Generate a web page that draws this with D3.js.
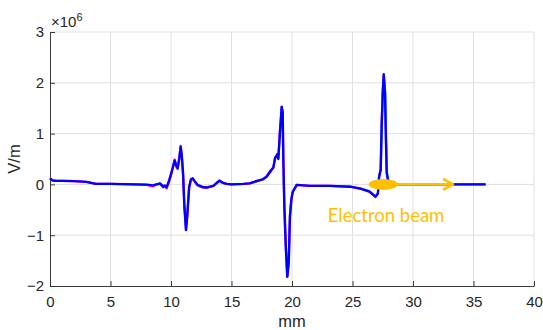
<!DOCTYPE html>
<html>
<head>
<meta charset="utf-8">
<script src="https://cdn.jsdelivr.net/npm/d3@7/dist/d3.min.js"></script>
<style>
  html, body { margin: 0; padding: 0; background: #fff; }
  svg { display: block; }
  .tick text { font-family: "Liberation Sans", Arial, sans-serif; }
</style>
</head>
<body>
<svg id="chart" width="543" height="330"></svg>
<script>
// Longitudinal field along the structure, in units of 1e6 V/m
const positionMm = [
  0, 0.2, 0.5, 1.0, 2.0, 3.0, 3.4, 3.8, 5.0, 6.0, 7.0, 8.0, 8.5, 8.8, 9.1, 9.36, 9.5, 9.64, 9.86,
  10.06, 10.3, 10.45, 10.55, 10.68, 10.8, 10.9, 11.0, 11.1, 11.24, 11.35, 11.5, 11.65, 11.8, 12.0,
  12.2, 12.6, 12.95, 13.5, 13.8, 14.0, 14.3, 14.6, 15.0, 16.0, 16.5, 17.1, 17.6, 17.9, 18.2, 18.46,
  18.6, 18.79, 18.87, 19.0, 19.15, 19.23, 19.28, 19.37, 19.5, 19.61, 19.73, 19.83, 19.95, 20.06,
  20.39, 21.5, 23.1, 24.8, 25.6, 26.4, 26.9, 27.1, 27.2, 27.33, 27.41, 27.5, 27.58, 27.69, 27.77,
  27.83, 27.96, 28.3, 36.0
];
const fieldBlue = [
  0.12, 0.08, 0.07, 0.07, 0.065, 0.05, 0.03, 0.01, 0.01, 0.005, 0.0, -0.005, -0.02, 0.0, 0.02, -0.045, -0.02, -0.06, 0.09,
  0.25, 0.47, 0.35, 0.32, 0.5, 0.74, 0.55, 0.2, -0.4, -0.9, -0.6, -0.05, 0.1, 0.12, 0.05,
  -0.01, -0.05, -0.06, -0.03, 0.03, 0.07, 0.03, 0.01, 0.0, 0.01, 0.02, 0.07, 0.1, 0.15, 0.25, 0.33,
  0.51, 0.6, 0.5, 1.0, 1.53, 1.42, 0.55, -0.44, -1.29, -1.82, -1.55, -0.64, -0.3, -0.15,
  -0.01, -0.03, -0.03, -0.045, -0.08, -0.14, -0.24, -0.18, 0.15, 0.28, 1.14, 1.79, 2.17, 1.79, 0.81,
  0.22, 0.05, 0.0, 0.0
];
// Second run on the same grid, mostly hidden under the blue trace
const fieldMagenta = [
  0.12, 0.08, 0.07, 0.07, 0.065, 0.05, 0.03, 0.01, 0.01, 0.005, 0.0, -0.01, -0.04, 0.0, 0.01, -0.06, -0.03, -0.08, 0.07,
  0.24, 0.49, 0.37, 0.30, 0.52, 0.76, 0.53, 0.18, -0.42, -0.89, -0.58, -0.06, 0.09, 0.11, 0.04,
  -0.02, -0.06, -0.07, -0.03, 0.04, 0.08, 0.03, 0.01, 0.0, 0.01, 0.02, 0.06, 0.1, 0.16, 0.27, 0.34,
  0.53, 0.58, 0.52, 1.05, 1.52, 1.40, 0.5, -0.5, -1.3, -1.81, -1.5, -0.6, -0.28, -0.14,
  -0.01, -0.03, -0.03, -0.045, -0.08, -0.14, -0.25, -0.17, 0.17, 0.3, 1.2, 1.85, 2.14, 1.8, 0.86,
  0.25, 0.06, 0.0, 0.0
];
// Third run, visible only around the last spike
const cyanMm = [27.2, 27.33, 27.42, 27.5, 27.6, 27.7, 27.78, 27.85, 28.0];
const fieldCyan = [0.15, 0.3, 1.2, 1.85, 2.12, 1.85, 0.9, 0.25, 0.05];

const xTicks = [0, 5, 10, 15, 20, 25, 30, 35, 40];
const yTicks = [-2, -1, 0, 1, 2, 3];

// Beam annotation (mm / 1e6 V/m)
const beamCenter = [27.5, 0];
const beamArrow = [28.7, 33.3];
const beamLabel = "Electron beam";

const svg = d3.select("#chart");
const x = d3.scaleLinear().domain([0, 40]).range([50, 534]);
const y = d3.scaleLinear().domain([-2, 3]).range([286, 32]);

const ink = "#262626";
const gold = "#FFC000";

// grid
const grid = svg.append("g");
grid.selectAll("line.gx").data(xTicks.slice(1)).join("line")
  .attr("x1", d => x(d)).attr("x2", d => x(d))
  .attr("y1", y(-2)).attr("y2", y(3))
  .attr("stroke", "#e0e0e0").attr("stroke-width", 1);
grid.selectAll("line.gy").data(yTicks.slice(1)).join("line")
  .attr("x1", x(0)).attr("x2", x(40))
  .attr("y1", d => y(d)).attr("y2", d => y(d))
  .attr("stroke", "#e0e0e0").attr("stroke-width", 1);

// axes with inward ticks
const xAxis = d3.axisBottom(x).tickValues(xTicks).tickFormat(d3.format("d"))
  .tickSizeInner(-5).tickSizeOuter(0).tickPadding(10);
const yAxis = d3.axisLeft(y).tickValues(yTicks).tickFormat(d3.format("d"))
  .tickSizeInner(-5).tickSizeOuter(0).tickPadding(6);

const gx = svg.append("g").attr("transform", `translate(0,${y(-2)})`).call(xAxis);
const gy = svg.append("g").attr("transform", `translate(${x(0)},0)`).call(yAxis);
[gx, gy].forEach(g => {
  g.select(".domain").attr("stroke", ink).attr("stroke-width", 0.9);
  g.selectAll(".tick line").attr("stroke", ink).attr("stroke-width", 0.9);
  g.selectAll(".tick text").attr("fill", ink).attr("font-size", 15);
});

// exponent label
const expo = svg.append("text")
  .attr("x", 51).attr("y", 27)
  .attr("font-family", "Liberation Sans, Arial, sans-serif")
  .attr("font-size", 15).attr("fill", ink);
expo.append("tspan").text("\u00D710");
expo.append("tspan").attr("dy", -6).attr("font-size", 11).text("6");

// axis titles
svg.append("text")
  .attr("transform", `translate(20,${y(0.5)}) rotate(-90)`)
  .attr("text-anchor", "middle")
  .attr("font-family", "Liberation Sans, Arial, sans-serif")
  .attr("font-size", 16.5).attr("fill", ink).text("V/m");
svg.append("text")
  .attr("x", x(20)).attr("y", 327)
  .attr("text-anchor", "middle")
  .attr("font-family", "Liberation Sans, Arial, sans-serif")
  .attr("font-size", 16.5).attr("fill", ink).text("mm");

// field traces
const line = d3.line().x(d => x(d[0])).y(d => y(d[1]));
const traces = [
  { mm: positionMm, v: fieldMagenta, color: "#ff00ff", w: 2.2 },
  { mm: cyanMm, v: fieldCyan, color: "#00e5ff", w: 2.0 },
  { mm: positionMm, v: fieldBlue, color: "#0000ff", w: 2.4 }
];
traces.forEach(t => {
  svg.append("path")
    .datum(t.mm.map((m, i) => [m, t.v[i]]))
    .attr("d", line)
    .attr("fill", "none")
    .attr("stroke", t.color)
    .attr("stroke-width", t.w)
    .attr("stroke-linejoin", "round");
});

// electron beam marker
svg.append("line")
  .attr("x1", x(beamArrow[0]) - 6).attr("x2", x(beamArrow[1]))
  .attr("y1", y(beamCenter[1])).attr("y2", y(beamCenter[1]))
  .attr("stroke", gold).attr("stroke-width", 2.8);
svg.append("path")
  .attr("d", `M${x(beamArrow[1]) - 9},${y(0) - 5} L${x(beamArrow[1])},${y(0)} L${x(beamArrow[1]) - 9},${y(0) + 5}`)
  .attr("fill", "none").attr("stroke", gold).attr("stroke-width", 2.8)
  .attr("stroke-linejoin", "round").attr("stroke-linecap", "round");
svg.append("ellipse")
  .attr("cx", x(beamCenter[0]) + 0.5).attr("cy", y(beamCenter[1]))
  .attr("rx", 14.5).attr("ry", 5.5)
  .attr("fill", gold);
svg.append("text")
  .attr("x", x(22.95)).attr("y", y(-0.74))
  .attr("font-family", "Lato, 'Open Sans', sans-serif")
  .attr("font-size", 18.5).attr("fill", gold)
  .text(beamLabel);
</script>
</body>
</html>
